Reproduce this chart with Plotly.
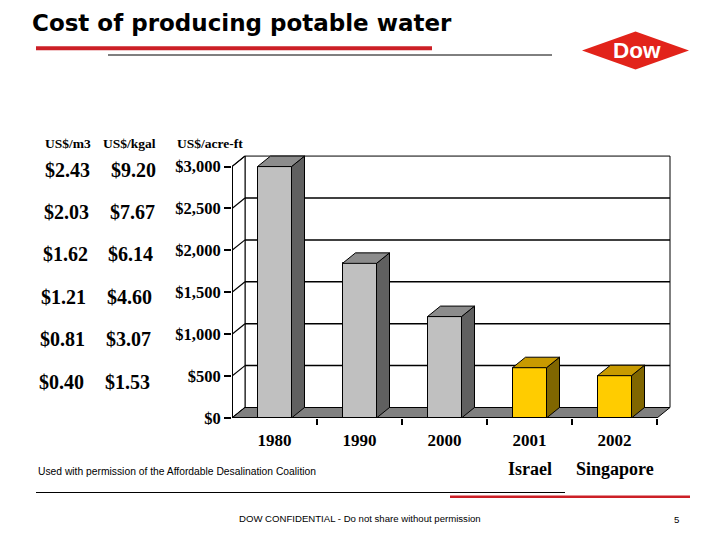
import plotly.graph_objects as go

# ---------------- data ----------------
categories = ["1980", "1990", "2000", "2001", "2002"]
sublabels = ["", "", "", "Israel", "Singapore"]
cost_usd_acre_ft = [3000, 1845, 1210, 600, 505]
front_colors = ["#c0c0c0", "#c0c0c0", "#c0c0c0", "#ffcc00", "#ffcc00"]
side_colors = ["#606060", "#606060", "#606060", "#806600", "#806600"]
top_colors = ["#8c8c8c", "#8c8c8c", "#8c8c8c", "#c89a00", "#c89a00"]

acre_ft_ticks = [0, 500, 1000, 1500, 2000, 2500, 3000]
label_levels = [3000, 2500, 2000, 1500, 1000, 500]
usd_m3_labels = ["$2.43", "$2.03", "$1.62", "$1.21", "$0.81", "$0.40"]
usd_kgal_labels = ["$9.20", "$7.67", "$6.14", "$4.60", "$3.07", "$1.53"]
unit_headers = ["US$/m3", "US$/kgal", "US$/acre-ft"]

title_text = "Cost of producing potable water"
source_text = "Used with permission of the Affordable Desalination Coalition"
footer_text = "DOW CONFIDENTIAL - Do not share without permission"
page_no = "5"

# ---------------- layout geometry (page pixels) ----------------
OFF = 8                      # default body margin of the html page
PAGE_W, PAGE_H = 720, 540
W, H = PAGE_W - 2 * OFF, PAGE_H - 2 * OFF
PLOT_L, PLOT_R, PLOT_T, PLOT_B = 232, 674, 154, 418
ML, MT = PLOT_L - OFF, PLOT_T - OFF
MR, MB = W - (PLOT_R - OFF), H - (PLOT_B - OFF)
PW, PH = PLOT_R - PLOT_L, PLOT_B - PLOT_T
XMIN, XMAX = -0.5, 4.7
YMAX = 3150
DX = 13 / (PW / (XMAX - XMIN))      # depth offset in category units
DY = 10.5 * YMAX / PH                # depth offset in value units
BW = 0.4
SERIF = "Liberation Serif, Times New Roman, serif"
SANS = "Liberation Sans, Arial, sans-serif"


def px(x):
    return (x - PLOT_L) / PW


def py(y):
    return (PLOT_B - y) / PH


xs = list(range(len(categories)))
x_lo, x_hi = xs[0] - 0.5, xs[-1] + 0.5
top_tick = max(acre_ft_ticks)

fig = go.Figure()

# front faces of the columns
fig.add_trace(go.Bar(
    x=xs, y=cost_usd_acre_ft, width=BW,
    marker=dict(color=front_colors, line=dict(color="black", width=1)),
    hoverinfo="skip", showlegend=False,
))

# side and top faces of the columns
for c, v, sc, tc in zip(xs, cost_usd_acre_ft, side_colors, top_colors):
    r = c + BW / 2
    l = c - BW / 2
    fig.add_trace(go.Scatter(
        x=[r, r + DX, r + DX, r, r], y=[0, DY, v + DY, v, 0],
        mode="lines", fill="toself", fillcolor=sc,
        line=dict(color="black", width=1), hoverinfo="skip", showlegend=False,
    ))
    fig.add_trace(go.Scatter(
        x=[l, l + DX, r + DX, r, l], y=[v, v + DY, v + DY, v, v],
        mode="lines", fill="toself", fillcolor=tc,
        line=dict(color="black", width=1), hoverinfo="skip", showlegend=False,
    ))

shapes = []
# back wall
shapes.append(dict(type="rect", xref="x", yref="y", layer="below",
                   x0=x_lo + DX, x1=x_hi + DX, y0=DY, y1=top_tick + DY,
                   fillcolor="white", line=dict(color="black", width=1)))
for t in acre_ft_ticks[1:-1]:
    shapes.append(dict(type="line", xref="x", yref="y", layer="below",
                       x0=x_lo + DX, x1=x_hi + DX, y0=t + DY, y1=t + DY,
                       line=dict(color="black", width=1.5)))
# side wall
shapes.append(dict(type="path", xref="x", yref="y", layer="below",
                   path=f"M{x_lo},0 L{x_lo + DX},{DY} L{x_lo + DX},{top_tick + DY} L{x_lo},{top_tick} Z",
                   fillcolor="white", line=dict(color="black", width=1)))
for t in acre_ft_ticks:
    shapes.append(dict(type="line", xref="x", yref="y", layer="below",
                       x0=x_lo, x1=x_lo + DX, y0=t, y1=t + DY,
                       line=dict(color="black", width=1.2)))
# floor
shapes.append(dict(type="path", xref="x", yref="y", layer="below",
                   path=f"M{x_lo},0 L{x_hi},0 L{x_hi + DX},{DY} L{x_lo + DX},{DY} Z",
                   fillcolor="#808080", line=dict(color="black", width=1)))
# front edges
shapes.append(dict(type="line", xref="x", yref="y", layer="above",
                   x0=x_lo, x1=x_lo, y0=0, y1=top_tick,
                   line=dict(color="black", width=2)))
shapes.append(dict(type="line", xref="x", yref="y", layer="above",
                   x0=x_lo, x1=x_hi, y0=0, y1=0,
                   line=dict(color="black", width=2)))

# slide decorations
shapes.append(dict(type="line", xref="paper", yref="paper",
                   x0=px(36), x1=px(432), y0=py(48.3), y1=py(48.3),
                   line=dict(color="#cc1f26", width=4)))
shapes.append(dict(type="line", xref="paper", yref="paper",
                   x0=px(108), x1=px(552), y0=py(55), y1=py(55),
                   line=dict(color="black", width=1)))
shapes.append(dict(type="line", xref="paper", yref="paper",
                   x0=px(36), x1=px(565), y0=py(492.5), y1=py(492.5),
                   line=dict(color="black", width=1)))
shapes.append(dict(type="line", xref="paper", yref="paper",
                   x0=px(450), x1=px(690), y0=py(496.7), y1=py(496.7),
                   line=dict(color="#cc1f26", width=2.5)))
# Dow diamond
shapes.append(dict(type="path", xref="paper", yref="paper",
                   path=(f"M{px(582)},{py(50.5)} L{px(635.5)},{py(31.5)} "
                         f"L{px(689)},{py(50.5)} L{px(635.5)},{py(69.5)} Z"),
                   fillcolor="#e2231a", line=dict(color="#e2231a", width=0)))

ann = []
ann.append(dict(text=title_text, xref="paper", yref="paper", x=px(30), y=py(22.5),
                xanchor="left", yanchor="middle", showarrow=False,
                font=dict(family="DejaVu Sans, Verdana, sans-serif", size=23,
                          color="black", weight="bold")))
ann.append(dict(text="Dow", xref="paper", yref="paper", x=px(637), y=py(50.5),
                xanchor="center", yanchor="middle", showarrow=False,
                font=dict(family=SANS, size=22.5, color="white", weight="bold")))

# unit headers
for txt, cx in zip(unit_headers, [68, 129, 210]):
    ann.append(dict(text=txt, xref="paper", yref="paper", x=px(cx), y=py(143.5),
                    xanchor="center", yanchor="middle", showarrow=False,
                    font=dict(family=SERIF, size=13.5, color="black", weight="bold")))

# converted-unit value columns
for i, (lvl, a, b) in enumerate(zip(label_levels, usd_m3_labels, usd_kgal_labels)):
    for txt, cx in ((a, 67.5 - 1.2 * i), (b, 133.3 - 1.2 * i)):
        ann.append(dict(text=txt, xref="paper", yref="y", x=px(cx), y=lvl,
                        yshift=-(3 + 0.5 * i), xanchor="center", yanchor="middle",
                        showarrow=False,
                        font=dict(family=SERIF, size=20, color="black", weight="bold")))

# second-line category labels
for c, s in zip(xs, sublabels):
    if s:
        ann.append(dict(text=s, xref="x", yref="paper", x=c, y=py(468.5),
                        xanchor="center", yanchor="middle", showarrow=False,
                        font=dict(family=SERIF, size=18, color="black", weight="bold")))

ann.append(dict(text=source_text, xref="paper", yref="paper", x=px(36), y=py(471.7),
                xanchor="left", yanchor="middle", showarrow=False,
                font=dict(family=SANS, size=10.3, color="black")))
ann.append(dict(text=footer_text, xref="paper", yref="paper", x=px(360), y=py(518.5),
                xanchor="center", yanchor="middle", showarrow=False,
                font=dict(family=SANS, size=9.6, color="black")))
ann.append(dict(text=page_no, xref="paper", yref="paper", x=px(676), y=py(519.5),
                xanchor="center", yanchor="middle", showarrow=False,
                font=dict(family=SANS, size=9.6, color="black")))

fig.update_layout(
    width=W, height=H,
    margin=dict(l=ML, r=MR, t=MT, b=MB, pad=0),
    paper_bgcolor="white", plot_bgcolor="rgba(0,0,0,0)",
    showlegend=False, shapes=shapes, annotations=ann,
    bargap=0,
    xaxis=dict(range=[XMIN, XMAX], tickvals=xs, ticktext=categories,
               ticks="", showgrid=False, zeroline=False, showline=False,
               ticklabelstandoff=10,
               tickfont=dict(family=SERIF, size=17, color="black", weight="bold"),
               minor=dict(tickvals=[c + 0.5 for c in xs], ticks="outside",
                          ticklen=6, tickwidth=1.5, tickcolor="black", showgrid=False),
               fixedrange=True),
    yaxis=dict(range=[0, YMAX], tickvals=acre_ft_ticks,
               ticktext=[f"${t:,}" for t in acre_ft_ticks],
               ticks="outside", ticklen=7, tickwidth=1.5,
               tickcolor="black", showgrid=False, zeroline=False, showline=False,
               tickfont=dict(family=SERIF, size=16.5, color="black", weight="bold"),
               fixedrange=True),
)

fig.write_html("out.html")
